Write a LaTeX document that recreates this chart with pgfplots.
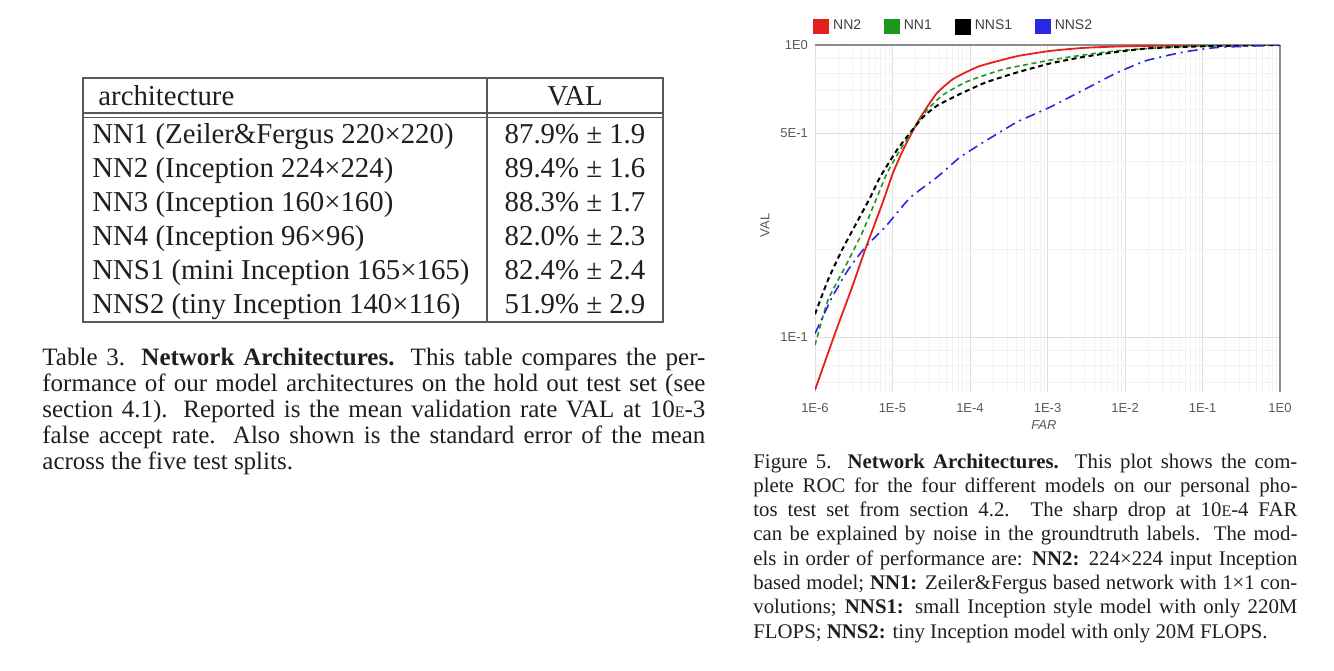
\documentclass[border=0pt]{standalone}
\usepackage{fontspec}
\setmainfont{Liberation Serif}
\newfontfamily\plotfont{Liberation Sans}
\usepackage{pgfplots}
\pgfplotsset{compat=1.18}
\definecolor{cred}{RGB}{232,30,30}
\definecolor{cgreen}{RGB}{30,150,30}
\definecolor{cblue}{RGB}{40,40,225}
\definecolor{txt}{RGB}{30,30,30}
\newcommand{\sce}{{\fontsize{8}{8}\selectfont E}}
\begin{document}
\begin{tikzpicture}
\path[use as bounding box] (0,0) rectangle (667pt,-335pt);
% ---------- table ----------
\begin{scope}[line width=0.8pt, draw=black!65]
\draw (41.5pt,-39pt) rectangle (331.5pt,-161pt);
\draw (41.5pt,-56.5pt) -- (331.5pt,-56.5pt);
\draw (41.5pt,-58.7pt) -- (331.5pt,-58.7pt);
\draw (243.5pt,-39pt) -- (243.5pt,-161pt);
\end{scope}
\begin{scope}[every node/.style={inner sep=0pt, text=txt, font=\fontsize{14.4}{17}\selectfont}]
\node[anchor=base west] at (49pt,-52.8pt) {architecture};
\node[anchor=base] at (287.5pt,-52.8pt) {VAL};
\node[anchor=base west] at (46pt,-71.5pt) {NN1 (Zeiler\&Fergus 220×220)};
\node[anchor=base west] at (46pt,-88.5pt) {NN2 (Inception 224×224)};
\node[anchor=base west] at (46pt,-105.5pt) {NN3 (Inception 160×160)};
\node[anchor=base west] at (46pt,-122.5pt) {NN4 (Inception 96×96)};
\node[anchor=base west] at (46pt,-139.5pt) {NNS1 (mini Inception 165×165)};
\node[anchor=base west] at (46pt,-156.5pt) {NNS2 (tiny Inception 140×116)};
\node[anchor=base] at (287.5pt,-71.5pt) {87.9\% ± 1.9};
\node[anchor=base] at (287.5pt,-88.5pt) {89.4\% ± 1.6};
\node[anchor=base] at (287.5pt,-105.5pt) {88.3\% ± 1.7};
\node[anchor=base] at (287.5pt,-122.5pt) {82.0\% ± 2.3};
\node[anchor=base] at (287.5pt,-139.5pt) {82.4\% ± 2.4};
\node[anchor=base] at (287.5pt,-156.5pt) {51.9\% ± 2.9};
\end{scope}
% ---------- captions ----------
\node[anchor=base west, inner sep=0pt, text=txt] at (21pt,-182.5pt) {\parbox[t]{331.5pt}{\fontsize{12.5}{13}\selectfont
Table 3. \textbf{Network Architectures.} This table compares the per-\linebreak
formance of our model architectures on the hold out test set (see\linebreak
section 4.1). Reported is the mean validation rate VAL at 10\sce-3\linebreak
false accept rate. Also shown is the standard error of the mean\linebreak
across the five test splits.}};
\node[anchor=base west, inner sep=0pt, text=txt] at (376.5pt,-234pt) {\parbox[t]{272pt}{\fontsize{10.4}{12.15}\selectfont
Figure 5. \textbf{Network Architectures.} This plot shows the com-\linebreak
plete ROC for the four different models on our personal pho-\linebreak
tos test set from section 4.2. The sharp drop at 10\sce-4 FAR\linebreak
can be explained by noise in the groundtruth labels. The mod-\linebreak
els in order of performance are: \textbf{NN2:} 224×224 input Inception\linebreak
based model; \textbf{NN1:} Zeiler\&Fergus based network with 1×1 con-\linebreak
volutions; \textbf{NNS1:} small Inception style model with only 220M\linebreak
FLOPS; \textbf{NNS2:} tiny Inception model with only 20M FLOPS.}};
% ---------- plot ----------
\begin{axis}[
  at={(407.5pt,-196pt)}, anchor=south west,
  scale only axis, width=232.5pt, height=173.5pt,
  xmode=log, ymode=log,
  xmin=1e-6, xmax=1, ymin=0.065, ymax=1,
  xtick={1e-6,1e-5,1e-4,1e-3,1e-2,1e-1,1},
  xticklabels={1E-6,1E-5,1E-4,1E-3,1E-2,1E-1,1E0},
  ytick={0.1,0.5,1}, yticklabels={1E-1,5E-1,1E0},
  minor xtick={2e-6,3e-6,4e-6,5e-6,6e-6,7e-6,8e-6,9e-6,
    2e-5,3e-5,4e-5,5e-5,6e-5,7e-5,8e-5,9e-5,
    2e-4,3e-4,4e-4,5e-4,6e-4,7e-4,8e-4,9e-4,
    2e-3,3e-3,4e-3,5e-3,6e-3,7e-3,8e-3,9e-3,
    2e-2,3e-2,4e-2,5e-2,6e-2,7e-2,8e-2,9e-2,
    2e-1,3e-1,4e-1,5e-1,6e-1,7e-1,8e-1,9e-1},
  minor ytick={0.07,0.08,0.09,0.2,0.3,0.4,0.6,0.7,0.8,0.9},
  grid=both,
  major grid style={black!13, line width=0.5pt},
  minor grid style={black!5, line width=0.4pt},
  extra x ticks={1}, extra x tick labels={},
  extra y ticks={1}, extra y tick labels={},
  extra tick style={major grid style={black!45, line width=0.7pt}},
  axis line style={draw=none},
  major tick length=0pt, minor tick length=0pt,
  tick label style={font=\plotfont\fontsize{6.5}{7}\selectfont, text=black!65},
  xticklabel style={yshift=-2pt},
  xlabel={FAR}, ylabel={VAL},
  xlabel style={font=\plotfont\itshape\fontsize{6.5}{7}\selectfont, text=black!65, at={(axis description cs:0.4925,-0.095)}, anchor=center},
  ylabel style={font=\plotfont\fontsize{6.5}{7}\selectfont, text=black!65, at={(axis description cs:-0.1075,0.48)}, anchor=center},
  legend columns=4,
  legend style={draw=none, fill=none, at={(axis description cs:0,1)}, anchor=west, xshift=-1pt, yshift=9.25pt,
    inner sep=0pt, font=\plotfont\fontsize{7}{8}\selectfont, text=black!75,
    /tikz/every even column/.append style={column sep=9.5pt}},
  legend image code/.code={\fill[#1, solid] (0pt,-3.5pt) rectangle (7pt,3.5pt);},
]
\addplot[cred, line width=0.9pt, smooth, tension=0.3] coordinates {
(1e-6,0.066) (1.81e-6,0.103) (3.0e-6,0.148) (4.42e-6,0.199) (7.33e-6,0.285)
(1.01e-5,0.364) (1.365e-5,0.437) (2.07e-5,0.541) (2.79e-5,0.613) (3.75e-5,0.685)
(6.04e-5,0.765) (1.3e-4,0.845) (4e-4,0.915) (1.1e-3,0.955) (3e-3,0.978)
(1e-2,0.99) (1e-1,0.998) (1,1)};
\addlegendentry{NN2}
\addplot[cgreen, line width=0.8pt, dash pattern=on 2.5pt off 1.8pt, smooth, tension=0.3] coordinates {
(1e-6,0.094) (1.47e-6,0.134) (2.44e-6,0.174) (4.04e-6,0.227) (5.95e-6,0.29)
(8.49e-6,0.364) (1.25e-5,0.437) (1.84e-5,0.512) (2.79e-5,0.599) (4.48e-5,0.675)
(9.14e-5,0.75) (2.67e-4,0.825) (1.08e-3,0.888) (2.87e-3,0.924) (7.6e-3,0.955)
(3e-2,0.98) (1e-1,0.992) (1,1)};
\addlegendentry{NN1}
\addplot[black, line width=1.0pt, dash pattern=on 2.5pt off 1.8pt, smooth, tension=0.3] coordinates {
(1e-6,0.12) (1.47e-6,0.157) (2.23e-6,0.199) (3.6e-6,0.252) (5.13e-6,0.30)
(6.9e-6,0.353) (1.14e-5,0.437) (1.68e-5,0.5) (2.48e-5,0.567) (3.75e-5,0.62)
(7.43e-5,0.68) (1.6e-4,0.745) (4e-4,0.805) (1.08e-3,0.865) (2.87e-3,0.91)
(7.6e-3,0.946) (2.1e-2,0.975) (1e-1,0.99) (1,1)};
\addlegendentry{NNS1}
\addplot[cblue, line width=0.8pt, dash pattern=on 5pt off 2.5pt on 1pt off 2.5pt, smooth, tension=0.3] coordinates {
(1e-6,0.103) (1.66e-6,0.137) (2.67e-6,0.170) (4.42e-6,0.203) (8e-6,0.238)
(1.68e-5,0.30) (3.75e-5,0.353) (7.43e-5,0.413) (1.66e-4,0.473) (4.04e-4,0.545)
(1.08e-3,0.613) (2.87e-3,0.70) (7.6e-3,0.80) (1.9e-2,0.885) (5.6e-2,0.945)
(0.15,0.98) (1,1)};
\addlegendentry{NNS2}
\end{axis}
\end{tikzpicture}
\end{document}
